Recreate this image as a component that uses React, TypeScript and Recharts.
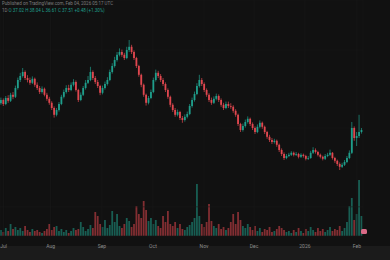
import React from 'react';
import { ComposedChart, Bar, XAxis, YAxis, CartesianGrid, Cell } from 'recharts';

// daily candles, Jul -> early Feb
const opens = [
  44.2, 45.0, 44.0, 45.5, 44.8, 46.3, 45.8, 48.0, 50.0, 51.0,
  52.0, 50.5, 50.0, 49.3, 50.3, 48.8, 48.0, 47.0, 47.8, 46.3,
  45.3, 44.3, 43.0, 41.3, 42.5, 44.0, 45.8, 47.0, 48.0, 47.5,
  48.8, 49.5, 47.5, 45.0, 46.3, 48.0, 49.3, 50.0, 52.0, 50.5,
  49.5, 48.5, 46.8, 48.0, 49.0, 50.0, 52.0, 53.5, 55.0, 56.3,
  57.0, 56.3, 55.5, 57.5, 58.3, 57.0, 55.5, 53.5, 51.3, 48.8,
  46.3, 44.3, 45.5, 47.0, 50.0, 51.8, 51.0, 50.0, 49.0, 47.5,
  45.8, 43.8, 42.5, 41.3, 42.0, 40.5, 40.0, 40.8, 41.5, 43.5,
  45.0, 46.5, 48.5, 50.0, 49.0, 47.5, 46.3, 45.0, 44.3, 45.3,
  46.0, 45.0, 43.8, 43.0, 44.0, 43.5, 43.3, 42.3, 41.3, 39.0,
  37.5, 38.5, 39.5, 40.3, 39.0, 38.0, 37.0, 38.3, 39.3, 38.3,
  37.0, 35.8, 35.0, 34.5, 34.8, 33.8, 32.5, 31.5, 30.5, 31.0,
  31.3, 31.8, 31.3, 31.5, 30.8, 31.3, 31.0, 30.3, 30.5, 31.8,
  32.5, 32.0, 31.3, 30.8, 30.3, 31.0, 31.3, 31.8, 30.5, 29.8,
  29.0, 28.3, 28.8, 29.5, 30.5, 31.8, 38.0, 35.5, 36.0, 37.0,
];
const closes = [
  45.0, 44.0, 45.5, 44.8, 46.3, 45.8, 48.0, 50.0, 51.0, 52.0,
  50.5, 50.0, 49.3, 50.3, 48.8, 48.0, 47.0, 47.8, 46.3, 45.3,
  44.3, 43.0, 41.3, 42.5, 44.0, 45.8, 47.0, 48.0, 47.5, 48.8,
  49.5, 47.5, 45.0, 46.3, 48.0, 49.3, 50.0, 52.0, 50.5, 49.5,
  48.5, 46.8, 48.0, 49.0, 50.0, 52.0, 53.5, 55.0, 56.3, 57.0,
  56.3, 55.5, 57.5, 58.3, 57.0, 55.5, 53.5, 51.3, 48.8, 46.3,
  44.3, 45.5, 47.0, 50.0, 51.8, 51.0, 50.0, 49.0, 47.5, 45.8,
  43.8, 42.5, 41.3, 42.0, 40.5, 40.0, 40.8, 41.5, 43.5, 45.0,
  46.5, 48.5, 50.0, 49.0, 47.5, 46.3, 45.0, 44.3, 45.3, 46.0,
  45.0, 43.8, 43.0, 44.0, 43.5, 43.3, 42.3, 41.3, 39.0, 37.5,
  38.5, 39.5, 40.3, 39.0, 38.0, 37.0, 38.3, 39.3, 38.3, 37.0,
  35.8, 35.0, 34.5, 34.8, 33.8, 32.5, 31.5, 30.5, 31.0, 31.3,
  31.8, 31.3, 31.5, 30.8, 31.3, 31.0, 30.3, 30.5, 31.8, 32.5,
  32.0, 31.3, 30.8, 30.3, 31.0, 31.3, 31.8, 30.5, 29.8, 29.0,
  28.3, 28.8, 29.5, 30.5, 31.8, 38.0, 35.5, 36.0, 37.0, 37.5,
];
const highs = [
  45.6, 45.4, 46.0, 46.2, 46.8, 47.0, 48.6, 50.6, 51.8, 53.0,
  52.4, 51.2, 50.6, 50.9, 50.6, 49.4, 48.5, 48.4, 48.1, 46.8,
  45.8, 44.7, 43.4, 43.0, 44.5, 46.3, 47.6, 48.7, 48.8, 49.4,
  50.2, 49.9, 47.8, 46.9, 48.5, 50.0, 51.0, 53.3, 52.4, 51.0,
  50.0, 48.8, 48.6, 49.6, 50.7, 52.6, 54.2, 55.8, 57.0, 57.9,
  57.6, 56.8, 58.3, 60.0, 58.8, 57.4, 55.8, 53.8, 51.6, 49.1,
  46.6, 46.0, 47.6, 50.6, 52.6, 52.3, 51.5, 50.5, 49.4, 47.9,
  46.1, 44.2, 43.0, 42.6, 42.3, 41.0, 41.4, 42.1, 44.0, 45.6,
  47.1, 49.2, 51.3, 50.5, 49.4, 47.9, 46.7, 45.6, 45.9, 46.6,
  46.4, 45.4, 44.3, 44.6, 44.6, 44.2, 43.7, 42.7, 41.6, 39.3,
  39.1, 40.1, 40.9, 40.6, 39.4, 38.4, 38.9, 39.9, 39.6, 38.6,
  37.3, 36.3, 35.5, 35.3, 35.1, 34.1, 32.9, 31.9, 31.5, 31.8,
  32.2, 32.1, 32.0, 31.8, 31.7, 31.6, 31.3, 31.0, 32.3, 33.2,
  32.9, 32.3, 31.6, 31.1, 31.5, 31.8, 32.6, 32.0, 30.8, 30.1,
  29.4, 29.3, 30.0, 31.0, 32.4, 39.5, 38.4, 37.0, 41.3, 38.0,
];
const lows = [
  43.8, 43.5, 43.7, 44.3, 44.5, 45.2, 45.5, 47.6, 49.5, 50.6,
  50.0, 49.4, 48.8, 49.0, 48.3, 47.5, 46.5, 46.6, 45.9, 44.8,
  43.8, 42.5, 40.6, 40.9, 42.1, 43.7, 45.4, 46.6, 47.0, 47.2,
  48.4, 47.1, 44.5, 44.7, 46.0, 47.6, 49.0, 49.7, 50.0, 49.0,
  48.0, 46.2, 46.4, 47.6, 48.6, 49.7, 51.6, 53.1, 54.6, 55.9,
  55.8, 55.0, 55.2, 57.0, 56.5, 55.0, 53.0, 50.8, 48.2, 45.8,
  43.6, 43.9, 45.2, 46.7, 49.6, 50.5, 49.5, 48.5, 47.0, 45.3,
  43.2, 42.0, 40.8, 40.9, 40.0, 39.3, 39.6, 40.4, 41.2, 43.1,
  44.6, 46.2, 48.1, 48.5, 47.0, 45.8, 44.5, 43.8, 44.0, 44.9,
  44.5, 43.3, 42.5, 42.7, 43.0, 42.8, 41.8, 40.8, 38.5, 37.0,
  37.1, 38.1, 39.1, 38.5, 37.5, 36.5, 36.7, 37.9, 37.8, 36.5,
  35.3, 34.5, 34.0, 34.1, 33.3, 32.0, 31.0, 30.0, 30.2, 30.7,
  31.0, 30.9, 31.0, 30.4, 30.5, 30.6, 29.9, 30.0, 30.3, 31.5,
  31.6, 30.9, 30.4, 29.9, 30.0, 30.7, 31.0, 30.1, 29.3, 28.5,
  27.5, 28.0, 28.5, 29.2, 30.2, 31.5, 34.8, 33.5, 35.5, 36.6,
];
// volume, millions
const volumes = [
  1.2, 0.8, 1.6, 1.0, 2.4, 1.4, 1.8, 1.2, 1.6, 1.0,
  2.0, 1.2, 0.8, 1.4, 1.0, 1.2, 0.8, 0.6, 1.0, 1.4,
  2.4, 1.2, 1.8, 2.0, 1.0, 1.4, 0.8, 1.2, 0.6, 1.0,
  1.6, 1.2, 1.4, 2.8, 1.8, 1.0, 1.4, 2.2, 1.6, 4.8,
  4.0, 2.4, 1.8, 3.2, 1.6, 2.2, 5.0, 2.8, 4.4, 2.0,
  1.6, 2.4, 3.6, 3.0, 1.8, 2.4, 6.0, 4.4, 3.6, 7.0,
  5.2, 3.0, 3.6, 2.4, 3.2, 2.0, 1.6, 4.0, 2.8, 5.0,
  2.4, 2.0, 2.8, 1.6, 2.4, 1.4, 1.2, 1.8, 2.2, 2.8,
  3.6, 10.4, 4.0, 2.4, 1.8, 2.8, 6.4, 3.0, 2.0, 1.6,
  2.4, 1.4, 1.8, 1.2, 1.6, 2.8, 4.4, 2.4, 4.8, 3.2,
  2.0, 1.6, 2.4, 1.8, 1.2, 2.0, 1.0, 1.6, 0.8, 1.4,
  1.2, 1.8, 0.8, 1.0, 1.4, 2.0, 1.6, 1.2, 0.8, 1.0,
  0.6, 1.2, 0.8, 1.6, 1.0, 0.6, 1.4, 1.0, 1.8, 1.2,
  0.8, 1.6, 1.0, 1.4, 0.8, 1.2, 1.8, 1.0, 1.4, 1.2,
  2.0, 1.0, 1.6, 2.8, 6.0, 7.6, 3.2, 4.4, 11.2, 4.0,
];
const monthTicks = [1, 20.4, 41.6, 62.7, 83.8, 104.5, 125.5, 147];
const monthLabels = ['Jul', 'Aug', 'Sep', 'Oct', 'Nov', 'Dec', '2026', 'Feb'];
const gridPrices = [18.3, 38, 57.5];

const UP = '#1f9e8b';
const DOWN = '#e0474f';
const BG = '#111111';

const data = closes.map((close, i) => ({
  i,
  open: opens[i],
  high: highs[i],
  low: lows[i],
  close,
  volume: volumes[i],
}));

const Candle = (props: any) => {
  const { x, y, width, height, payload } = props;
  const { open, close, high, low } = payload;
  const color = close >= open ? UP : DOWN;
  const top = Math.min(y, y + height);
  const h = Math.abs(height);
  const k = h / (high - low || 1);
  const yOf = (v: number) => top + (high - v) * k;
  const bTop = yOf(Math.max(open, close));
  const bBot = yOf(Math.min(open, close));
  const cx = x + width / 2;
  return (
    <g>
      <line x1={cx} x2={cx} y1={top} y2={top + h} stroke={color} strokeWidth={0.7} />
      <rect x={x} y={bTop} width={width} height={Math.max(bBot - bTop, 0.8)} fill={color} />
    </g>
  );
};

const W = 390;
const H = 260;
const margin = { top: 0, right: 27, bottom: 0, left: 0 };

export default function App() {
  document.body.style.margin = '0';
  return (
    <div style={{ position: 'relative', width: W, height: H, background: BG, overflow: 'hidden', fontFamily: 'Roboto, sans-serif' }}>
      <div style={{ position: 'absolute', left: 0, top: 246, width: W, height: 14, background: '#1b1b1b' }} />
      <div style={{ position: 'absolute', left: 0, top: 0 }}>
        <ComposedChart width={W} height={H} data={data} margin={{ ...margin, bottom: 24 }}>
          <XAxis type="number" dataKey="i" domain={[-0.5, 149.5]} hide />
          <YAxis yAxisId="vol" domain={[0, 47.2]} hide />
          <Bar yAxisId="vol" dataKey="volume" barSize={1.8} isAnimationActive={false}>
            {data.map((d) => (
              <Cell key={d.i} fill={d.close >= d.open ? UP : DOWN} fillOpacity={0.55} />
            ))}
          </Bar>
        </ComposedChart>
      </div>
      <div style={{ position: 'absolute', left: 0, top: 0 }}>
        <ComposedChart width={W} height={H} data={data} margin={margin}>
          <CartesianGrid stroke="#191919" strokeWidth={0.6} />
          <XAxis
            type="number"
            dataKey="i"
            domain={[-0.5, 149.5]}
            ticks={monthTicks}
            interval={0}
            height={24}
            axisLine={false}
            tickLine={false}
            tickMargin={2}
            tick={{ fontSize: 5, fill: '#8c8c8c' }}
            tickFormatter={(v: number) => monthLabels[monthTicks.indexOf(v)] ?? ''}
          />
          <YAxis domain={[11, 70]} ticks={gridPrices} hide />
          <Bar
            dataKey={(d: any) => [d.low, d.high]}
            barSize={1.8}
            shape={Candle}
            isAnimationActive={false}
          />
        </ComposedChart>
      </div>
      <div style={{ position: 'absolute', left: 2, top: 1, fontSize: 4.5, color: '#7c7c7c', whiteSpace: 'nowrap' }}>
        Published on TradingView.com, Feb 04, 2026 05:17 UTC
      </div>
      <div style={{ position: 'absolute', left: 2, top: 8, fontSize: 4.5, color: UP, whiteSpace: 'nowrap' }}>
        <span style={{ color: '#7c7c7c' }}>1D</span> O 37.02 H 38.04 L 36.61 C 37.51 +0.48 (+1.30%)
      </div>
      <div style={{ position: 'absolute', left: 361, top: 229, width: 6, height: 5, borderRadius: 1.5, background: '#d96a86' }} />
    </div>
  );
}
